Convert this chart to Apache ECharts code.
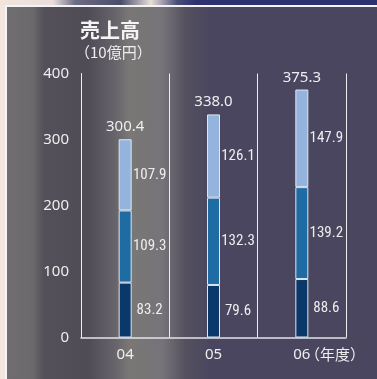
<!DOCTYPE html>
<html>
<head>
<meta charset="utf-8">
<style>
  html, body { margin: 0; padding: 0; background: #f3e6de; }
  #chart { width: 377px; height: 379px; }
</style>
<script src="https://cdn.jsdelivr.net/npm/echarts@6/dist/echarts.min.js"></script>
</head>
<body>
<div id="chart"></div>
<script>
// Fiscal years on the category axis
const years = ['04', '05', '06'];
// Stacked segments, bottom to top (10億円)
const segBottom = [83.2, 79.6, 88.6];
const segMiddle = [109.3, 132.3, 139.2];
const segTop = [107.9, 126.1, 147.9];
// Stated totals shown above each bar
const totals = [300.4, 338.0, 375.3];
// Value axis ticks
const yTicks = [0, 100, 200, 300, 400];

const numFont = "'Noto Sans', 'Open Sans', sans-serif";
const narrowFont = "'Roboto Condensed', 'Liberation Sans', sans-serif";
const jpFont = "'Noto Sans CJK JP', 'Noto Sans', sans-serif";

const chart = echarts.init(document.getElementById('chart'), null, { renderer: 'canvas' });

function segLabel() {
  return {
    show: true,
    position: [31, '50%'],
    align: 'center',
    verticalAlign: 'middle',
    color: '#eeeeee',
    fontFamily: narrowFont,
    fontSize: 15,
    formatter: (p) => p.value.toFixed(1)
  };
}

function segSeries(name, data, color) {
  return {
    name: name,
    type: 'bar',
    stack: 'sales',
    data: data,
    barWidth: 13,
    itemStyle: { color: color, borderColor: '#dfe7f0', borderWidth: 1 },
    label: segLabel(),
    silent: true,
    z: 3
  };
}

const panelGradient = new echarts.graphic.LinearGradient(0, 0, 1, 0, [
  { offset: 0.00, color: '#6f6d6f' },
  { offset: 0.07, color: '#6b696b' },
  { offset: 0.10, color: '#53505a' },
  { offset: 0.22, color: '#4f4c56' },
  { offset: 0.29, color: '#66636a' },
  { offset: 0.33, color: '#7a7776' },
  { offset: 0.42, color: '#76737a' },
  { offset: 0.45, color: '#66636c' },
  { offset: 0.48, color: '#55515f' },
  { offset: 0.55, color: '#4a465f' },
  { offset: 1.00, color: '#4a4660' }
]);

const topStrip = new echarts.graphic.LinearGradient(0, 0, 1, 0, [
  { offset: 0.00, color: '#f1e5dd' },
  { offset: 0.14, color: '#e9dedb' },
  { offset: 0.20, color: '#6c6c82' },
  { offset: 0.32, color: '#4b4c6a' },
  { offset: 0.40, color: '#e6ded8' },
  { offset: 0.47, color: '#4b4d78' },
  { offset: 0.52, color: '#2e3070' },
  { offset: 1.00, color: '#2d2f71' }
]);

chart.setOption({
  animation: false,
  backgroundColor: '#f3e6de',
  graphic: [
    { type: 'rect', z: -10, shape: { x: 0, y: 0, width: 377, height: 5 }, style: { fill: topStrip } },
    { type: 'rect', z: -9, shape: { x: 5, y: 5, width: 372, height: 374 }, style: { fill: '#f4f4f6' } },
    { type: 'rect', z: -8, shape: { x: 7, y: 7, width: 370, height: 372 }, style: { fill: panelGradient } },
    {
      type: 'text', z: 10, left: 80, top: 20,
      style: { text: '売上高', fill: '#f4f4f4', font: "bold 20px " + jpFont }
    },
    {
      type: 'text', z: 10, left: 75, top: 45,
      style: { text: '（10億円）', fill: '#eeeeee', font: "15px " + jpFont }
    },
    {
      type: 'text', z: 10, left: 305, top: 347,
      style: { text: '（年度）', fill: '#eeeeee', font: "15px " + jpFont }
    }
  ],
  grid: { left: 81, right: 31, top: 73.5, bottom: 41.5, containLabel: false },
  xAxis: {
    type: 'category',
    data: years,
    boundaryGap: true,
    axisLine: { show: true, lineStyle: { color: '#e4e4e8', width: 1.5 } },
    axisTick: { show: false },
    axisLabel: { color: '#eeeeee', fontFamily: numFont, fontSize: 15, margin: 10 },
    splitLine: { show: true, lineStyle: { color: '#eeeeee', width: 1 } }
  },
  yAxis: {
    type: 'value',
    min: yTicks[0],
    max: yTicks[yTicks.length - 1],
    interval: 100,
    axisLine: { show: true, lineStyle: { color: '#eeeeee', width: 1 } },
    axisTick: { show: false },
    splitLine: { show: false },
    axisLabel: { color: '#eeeeee', fontFamily: numFont, fontSize: 15, margin: 12 }
  },
  series: [
    segSeries('bottom', segBottom, '#0b386b'),
    segSeries('middle', segMiddle, '#1f6ba4'),
    segSeries('top', segTop, '#94b4de'),
    {
      name: 'total',
      type: 'bar',
      data: totals,
      barWidth: 13,
      barGap: '-100%',
      itemStyle: { color: 'rgba(0,0,0,0)' },
      silent: true,
      z: 1,
      label: {
        show: true,
        position: 'top',
        distance: 5,
        color: '#eeeeee',
        fontFamily: numFont,
        fontSize: 15,
        formatter: (p) => p.value.toFixed(1)
      }
    }
  ]
});
</script>
</body>
</html>
